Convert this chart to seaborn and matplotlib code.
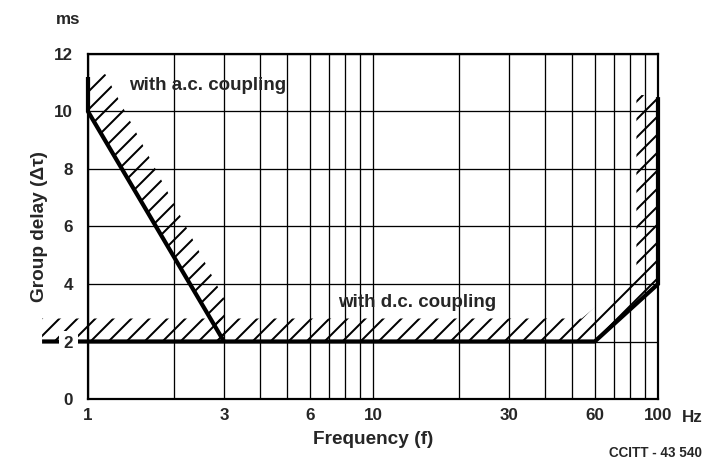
import matplotlib
matplotlib.use("Agg")
import matplotlib.pyplot as plt
import matplotlib.hatch as mhatch
from matplotlib.backend_bases import GraphicsContextBase
import seaborn as sns
import pandas as pd

# ---- data ----
ac_freq = [1, 1, 3]
ac_delay = [11.2, 10, 2]
dc_freq = [0.69, 60, 100, 100]
dc_delay = [2, 2, 4, 10.5]
ac_hatch_freq = [1, 1, 3, 3, 1.15]
ac_hatch_delay = [11.3, 10, 2, 3.5, 11.3]
dc_hatch_freq = [0.69, 60, 100, 100, 84, 84, 54, 0.69]
dc_hatch_delay = [2, 2, 4, 10.5, 10.6, 4.4, 2.8, 2.8]
x_ticks = [1, 3, 6, 10, 30, 60, 100]
x_ticklabels = ["1", "3", "6", "10", "30", "60", "100"]
x_minor = [2, 4, 5, 7, 8, 9, 20, 40, 50, 70, 80, 90]
y_ticks = [0, 2, 4, 6, 8, 10, 12]


# slightly sparser hatch than matplotlib's '//'
def _hatch_path(self, density=8.0):
    h = self.get_hatch()
    if h is None:
        return None
    return mhatch.get_path(h, density)


GraphicsContextBase.get_hatch_path = _hatch_path

sns.set_theme(style="white")
plt.rcParams['font.family'] = ['Liberation Sans', 'DejaVu Sans']
plt.rcParams['hatch.linewidth'] = 2.0
plt.rcParams['hatch.color'] = 'black'

fig = plt.figure(figsize=(705 / 72, 461 / 72), dpi=72)
ax = fig.add_axes([88 / 705, 1 - 399 / 461, 570 / 705, 345 / 461])
ax.set_xscale('log')
ax.set_xlim(1, 100)
ax.set_ylim(0, 12)

# hatched areas
ax.fill(ac_hatch_freq, ac_hatch_delay, facecolor='none', edgecolor='black',
        linewidth=0, hatch='/', zorder=3)
p = ax.fill(dc_hatch_freq, dc_hatch_delay, facecolor='none', edgecolor='black',
            linewidth=0, hatch='/', zorder=3)
for patch in p:
    patch.set_clip_on(False)

ac_df = pd.DataFrame({"f": ac_freq, "d": ac_delay})
dc_df = pd.DataFrame({"f": dc_freq, "d": dc_delay})
sns.lineplot(data=ac_df, x="f", y="d", sort=False, color='black', lw=4.2, ax=ax,
             estimator=None, zorder=4)
sns.lineplot(data=dc_df, x="f", y="d", sort=False, color='black', lw=4.2, ax=ax,
             estimator=None, zorder=4)
for ln in ax.get_lines():
    ln.set_clip_on(False)
    ln.set_solid_capstyle('butt')
    ln.set_solid_joinstyle('miter')

tick_font = ['Liberation Sans Narrow', 'Liberation Sans', 'DejaVu Sans']
ax.set_xticks(x_ticks)
ax.set_xticklabels(x_ticklabels)
ax.set_xticks(x_minor, minor=True)
ax.set_xticklabels([], minor=True)
ax.set_yticks(y_ticks)
ax.set_yticklabels([str(v) for v in y_ticks])
ax.tick_params(which='both', length=0, labelsize=17)
ax.tick_params(axis='x', pad=9)
ax.tick_params(axis='y', pad=15)
for lab in ax.get_xticklabels() + ax.get_yticklabels():
    lab.set_fontweight('bold')
    lab.set_family(tick_font)
for lab in ax.get_yticklabels():
    lab.set_bbox(dict(facecolor='white', edgecolor='none', pad=5))
ax.yaxis.set_zorder(5)

ax.grid(which='both', axis='x', color='black', lw=1.3)
ax.grid(which='major', axis='y', color='black', lw=1.3)
for s in ax.spines.values():
    s.set_visible(True)
    s.set_color('black')
    s.set_linewidth(2.2)

ax.set_xlabel("Frequency (f)", fontsize=19, fontweight='bold', labelpad=8)
ax.set_ylabel("Group delay (Δτ)", fontsize=19, fontweight='bold', labelpad=6)

ax.text(1.39, 10.92, "with a.c. coupling", fontsize=18.8, fontweight='bold',
        va='center', ha='left', zorder=6)
ax.text(7.54, 3.34, "with d.c. coupling", fontsize=18.8, fontweight='bold',
        va='center', ha='left', zorder=6)

fig.text(68 / 705, 1 - 20 / 461, "ms", fontsize=17, fontweight='bold',
         ha='center', va='center')
fig.text(692 / 705, 1 - 417 / 461, "Hz", fontsize=17, fontweight='bold',
         ha='center', va='center')
fig.text(655 / 705, 1 - 453 / 461, "CCITT - 43 540", fontsize=13.5,
         fontweight='bold', ha='center', va='center')

fig.savefig("out.png", dpi=72)
